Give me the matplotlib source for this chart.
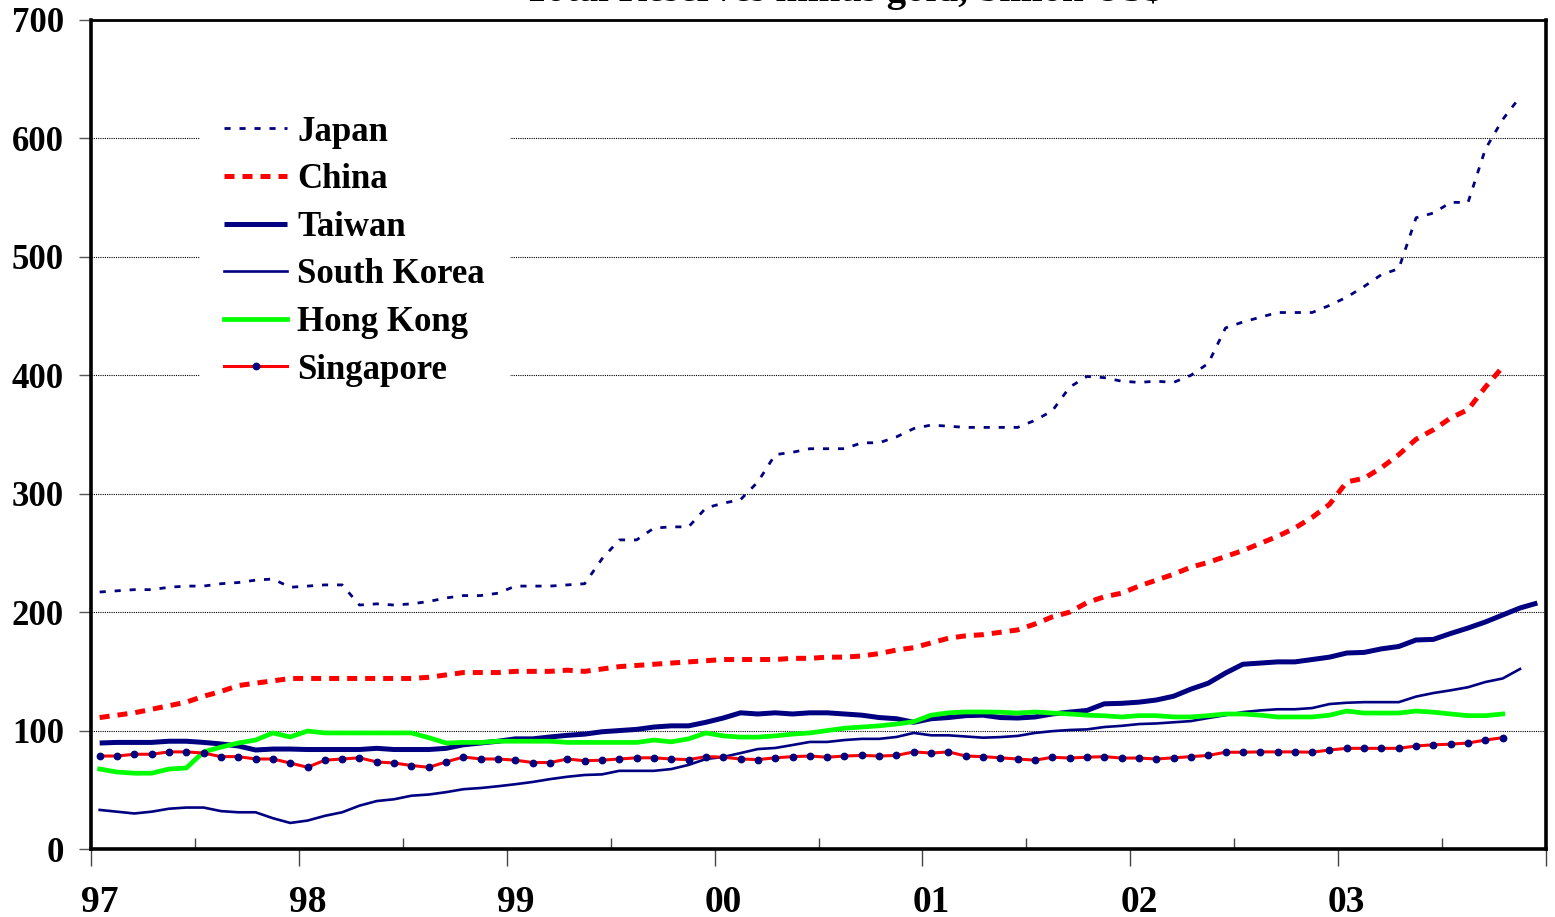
import numpy as np
import matplotlib
matplotlib.use("Agg")
import matplotlib.pyplot as plt

# Monthly total reserves minus gold, billions of US$, Jan 1997 onwards
japan = [217, 218, 219, 219, 221, 222, 222, 224, 225, 227, 228, 221,
         222, 223, 223, 206, 207, 206, 207, 209, 212, 214, 214, 216,
         222, 222, 222, 223, 224, 245, 261, 261, 271, 272, 272, 288,
         292, 295, 310, 333, 335, 338, 338, 338, 343, 343, 348, 355,
         358, 357, 356, 356, 356, 356, 362, 370, 390, 399, 398, 395,
         394, 395, 394, 400, 410, 440, 445, 449, 453, 453, 453, 459,
         466, 475, 485, 490, 533, 537, 546, 546, 591, 616, 635]

china = [111, 113, 115, 118, 121, 124, 129, 133, 138, 140, 142, 144,
         144, 144, 144, 144, 144, 144, 144, 145, 147, 149, 149, 149,
         150, 150, 150, 151, 150, 152, 154, 155, 156, 157, 158, 159,
         160, 160, 160, 160, 161, 161, 162, 162, 163, 165, 168, 170,
         174, 178, 180, 181, 183, 185, 190, 196, 200, 208, 213, 216,
         222, 227, 232, 238, 242, 247, 252, 258, 264, 271, 280, 291,
         310, 313, 322, 333, 346, 354, 364, 371, 390, 407]

taiwan = [89.5, 90, 90, 90, 91, 91, 90, 88.7, 87, 83.6, 84.4, 84.4,
          84, 84, 84, 84, 85, 84, 84, 84, 85, 88, 89.5, 91,
          93, 93, 94.6, 96, 97, 99, 100, 101, 103, 104, 104, 107,
          110.6, 115, 114, 115, 114, 115, 115, 114, 113, 111, 110, 107,
          110, 111, 112.6, 113, 111, 110.6, 111.5, 114, 115.6, 117, 122.6, 123,
          124, 125.8, 129, 135, 140, 148.6, 156, 157, 158, 158, 160, 162,
          165.5, 166, 169, 171, 176.5, 177, 182, 186.6, 191.7, 197.6, 203.5, 207.7]

south_korea = [33, 31.5, 30, 31.5, 34, 35, 35, 32, 31, 31, 26, 22,
               24, 28, 31, 36.6, 40.5, 42, 45, 46, 48, 50.5, 51.5, 53,
               54.7, 56.6, 59, 61, 62.5, 63, 66, 66, 66, 67.5, 71, 76,
               77.7, 81, 84.4, 85.3, 87.8, 90.4, 90.4, 92, 93, 93, 94.6, 98,
               96, 96, 95, 94, 94.5, 95.5, 98, 99.5, 100.5, 101, 103, 104,
               105.5, 106, 107, 108, 110.6, 113, 115.6, 117, 118, 118, 119, 122.4,
               123.5, 124, 124, 124, 128.7, 131.7, 134, 136.6, 141, 144, 152]

hong_kong = [67.5, 65, 64, 64, 67.5, 68.4, 82, 86, 89.5, 92, 98, 94.6,
             99.6, 98, 98, 98, 98, 98, 98, 94, 89.5, 90, 90, 91,
             91, 91, 91, 90, 90, 90, 90, 90, 92, 90.5, 93, 98,
             95.5, 94.5, 94.5, 95.5, 97, 98, 100, 102, 103, 104, 105.5, 107.5,
             113, 115, 115.7, 115.7, 115.5, 114.8, 115.7, 114.8, 114, 113, 112.5, 111.5,
             112.6, 112.6, 111.5, 111.5, 112.6, 114, 114, 113, 111.5, 111.5, 111.5, 113,
             116.5, 114.8, 114.8, 114.8, 116.5, 115.5, 114, 112.6, 112.6, 114]

singapore = [78.5, 78.5, 80, 80, 82, 82, 81, 78, 78, 76, 76, 72.6,
             69, 75, 76, 77, 73.5, 72.6, 70.5, 69, 73.5, 77.7, 76, 76,
             75, 73, 73, 76, 74.5, 75, 76, 77, 77, 76, 75.5, 78,
             77.5, 76, 75.5, 77, 78, 78.5, 77.5, 78.5, 79, 78.5, 79, 82,
             81, 82, 78.5, 78, 77, 76, 75, 77.5, 76.8, 77.5, 78, 76.8,
             76.8, 76, 77, 78, 79, 81.7, 81.7, 82, 82, 82, 81.7, 83.6,
             85, 85, 85, 85, 87, 88, 88.5, 89.5, 92, 94]

year_labels = ["97", "98", "99", "00", "01", "02", "03"]
y_ticks = [0, 100, 200, 300, 400, 500, 600, 700]
title = "Total Reserves minus gold, billion US$"

NAVY = "#000080"
RED = "#FF0000"
GREEN = "#00FF00"
SERIF = ["Liberation Serif", "DejaVu Serif"]

plt.rcParams["font.family"] = SERIF
plt.rcParams["font.weight"] = "bold"

fig = plt.figure(figsize=(15.55, 9.17), dpi=100)
ax = fig.add_axes([91 / 1555, 1 - 849 / 917, 1455 / 1555, 829 / 917])

def months(series):
    return np.arange(len(series))

ax.plot(months(japan), japan, color=NAVY, lw=2.0,
        linestyle=(0, (2.2, 3.2)), label="Japan", zorder=3)
ax.plot(months(china), china, color=RED, lw=3.6,
        linestyle=(0, (2.0, 1.6)), label="China", zorder=3)
ax.plot(months(taiwan), taiwan, color=NAVY, lw=3.6, label="Taiwan",
        solid_capstyle="butt", zorder=3)
ax.plot(months(south_korea), south_korea, color=NAVY, lw=1.9,
        label="South Korea", zorder=3)
ax.plot(months(hong_kong), hong_kong, color=GREEN, lw=3.4,
        label="Hong Kong", zorder=3)
ax.plot(months(singapore), singapore, color=RED, lw=2.2, marker="o",
        markersize=4.6, markerfacecolor=NAVY, markeredgecolor=NAVY,
        label="Singapore", zorder=3)

n_years = len(year_labels)
ax.set_xlim(-0.5, 12 * n_years - 0.5)
ax.set_ylim(0, 700)

# y axis
ax.set_yticks(y_ticks)
ax.set_yticklabels([str(v) for v in y_ticks])
ax.tick_params(axis="y", direction="out", length=8.5, width=1.0,
               color="#555555", labelsize=25, pad=11)
ax.yaxis.grid(True, color="black", linestyle=(0, (1, 1)), linewidth=0.8)
ax.set_axisbelow(True)

# x axis: labels centred on January, ticks at year boundaries
ax.set_xticks([12 * k for k in range(n_years)])
ax.set_xticklabels(year_labels)
ax.tick_params(axis="x", length=0, labelsize=27, pad=26)
ax.set_xticks([12 * k - 0.5 for k in range(n_years + 1)], minor=True)
ax.tick_params(axis="x", which="minor", direction="out", length=12,
               width=1.0, color="#444444")
sec = ax.secondary_xaxis("bottom")
sec.set_xticks([12 * k + 5.5 for k in range(n_years)])
sec.tick_params(direction="in", length=8, width=1.0, color="#444444",
                labelbottom=False)
sec.spines["bottom"].set_visible(False)

for side in ["left", "right", "bottom", "top"]:
    ax.spines[side].set_linewidth(2.6)
    ax.spines[side].set_color("black")
ax.spines["top"].set_linewidth(2.0)

leg = ax.legend(loc="upper left", bbox_to_anchor=(0.0749, 0.914),
                frameon=True, fancybox=False, framealpha=1.0,
                edgecolor="white", facecolor="white",
                prop={"family": SERIF, "weight": "bold", "size": 25},
                handlelength=1.8, handletextpad=0.3, labelspacing=0.42,
                borderpad=0.7, borderaxespad=0.0)
leg.set_zorder(5)

# Chart heading sits at the very top edge of the canvas
fig.text(843 / 1555, 1 - 1.5 / 917, title, ha="center", va="baseline",
         fontsize=28, fontweight="bold", family=SERIF)

fig.savefig("out.png", dpi=100, facecolor="white")
